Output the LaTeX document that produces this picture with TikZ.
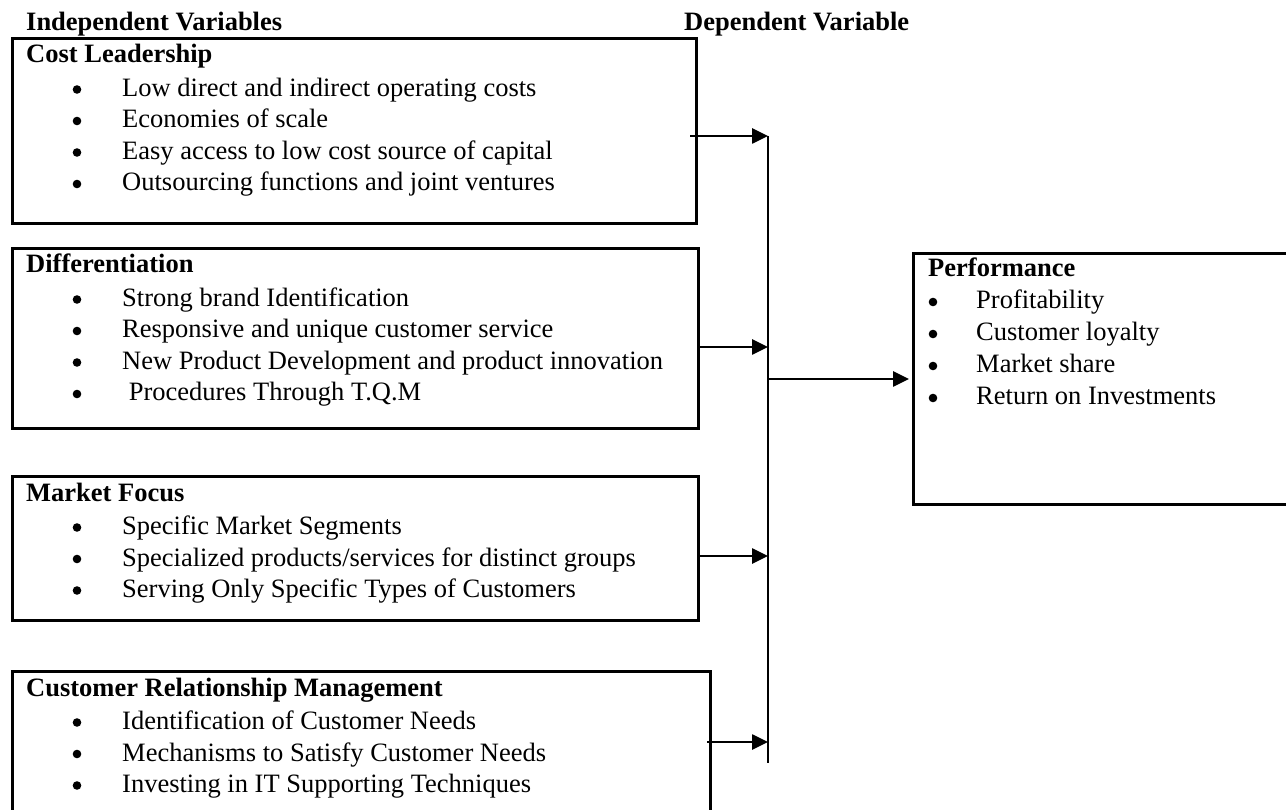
\documentclass[tikz,border=0pt]{standalone}
\usepackage{fontspec}
\setmainfont{Liberation Serif}
\usetikzlibrary{arrows.meta}
\begin{document}
\begin{tikzpicture}[x=1pt,y=-1pt,
  box/.style={draw, line width=2.6pt, anchor=north west, inner sep=0pt, rectangle},
  ttl/.style={anchor=base west, inner sep=0pt, font=\fontsize{26.5}{32}\selectfont\bfseries},
  itm/.style={anchor=base west, inner sep=0pt, font=\fontsize{26.5}{32}\selectfont},
  bul/.style={circle, fill, inner sep=0pt, minimum size=8.6pt},
  conn/.style={line width=2.6pt, -{Triangle[length=16pt,width=15pt]}},
  bus/.style={line width=2.4pt}]
\useasboundingbox (0,0) rectangle (1286,810);
\clip (0,0) rectangle (1286,810);

% headers
\node[ttl] (hind) at (26,31) {Independent Variables};
\node[ttl] (hdep) at (684,31) {Dependent Variable};

% boxes
\node[box, minimum width=684pt, minimum height=185pt] (cl) at (11,37) {};
\node[box, minimum width=686pt, minimum height=180pt] (df) at (11,247) {};
\node[box, minimum width=686pt, minimum height=144pt] (mf) at (11,475) {};
\node[box, minimum width=698pt, minimum height=170pt] (crm) at (11,670) {};
\node[box, minimum width=400pt, minimum height=251pt] (perf) at (912,252) {};

% Cost Leadership
\node[ttl] (cl-t) at (26,63) {Cost Leadership};
\foreach \t [count=\i] in {Low direct and indirect operating costs, Economies of scale, Easy access to low cost source of capital, Outsourcing functions and joint ventures}{
  \node[bul] (cl-b\i) at (77,58+31.5*\i) {};
  \node[itm] (cl-i\i) at (122,65+31.5*\i) {\t};
}

% Differentiation
\node[ttl] (df-t) at (26,273) {Differentiation};
\foreach \t [count=\i] in {Strong brand Identification, Responsive and unique customer service, New Product Development and product innovation, \kern6.6pt Procedures Through T.Q.M}{
  \node[bul] (df-b\i) at (77,268+31.5*\i) {};
  \node[itm] (df-i\i) at (122,275+31.5*\i) {\t};
}

% Market Focus
\node[ttl] (mf-t) at (26,501) {Market Focus};
\foreach \t [count=\i] in {Specific Market Segments, Specialized products/services for distinct groups, Serving Only Specific Types of Customers}{
  \node[bul] (mf-b\i) at (77,496+31.5*\i) {};
  \node[itm] (mf-i\i) at (122,503+31.5*\i) {\t};
}

% CRM
\node[ttl] (crm-t) at (26,696) {Customer Relationship Management};
\foreach \t [count=\i] in {Identification of Customer Needs, Mechanisms to Satisfy Customer Needs, Investing in IT Supporting Techniques}{
  \node[bul] (crm-b\i) at (77,691+31.5*\i) {};
  \node[itm] (crm-i\i) at (122,698+31.5*\i) {\t};
}

% Performance
\node[ttl] (pf-t) at (928,277) {Performance};
\foreach \t [count=\i] in {Profitability, Customer loyalty, Market share, Return on Investments}{
  \node[bul] (pf-b\i) at (933,270+32*\i) {};
  \node[itm] (pf-i\i) at (976,277+32*\i) {\t};
}

% connectors
\coordinate (s1) at (690,136); \coordinate (j1) at (768,136);
\coordinate (s2) at (700,347); \coordinate (j2) at (768,347);
\coordinate (s3) at (700,556); \coordinate (j3) at (768,556);
\coordinate (s4) at (707,742); \coordinate (j4) at (768,742);
\coordinate (jo) at (768,379);
\coordinate (jb) at (768,763);
\draw[bus] (j1) -- (jb);
\draw[conn] (s1) -- (j1);
\draw[conn] (s2) -- (j2);
\draw[conn] (s3) -- (j3);
\draw[conn] (s4) -- (j4);
\draw[conn] (jo) -- ([xshift=-3pt]perf.west |- jo);
\end{tikzpicture}
\end{document}
